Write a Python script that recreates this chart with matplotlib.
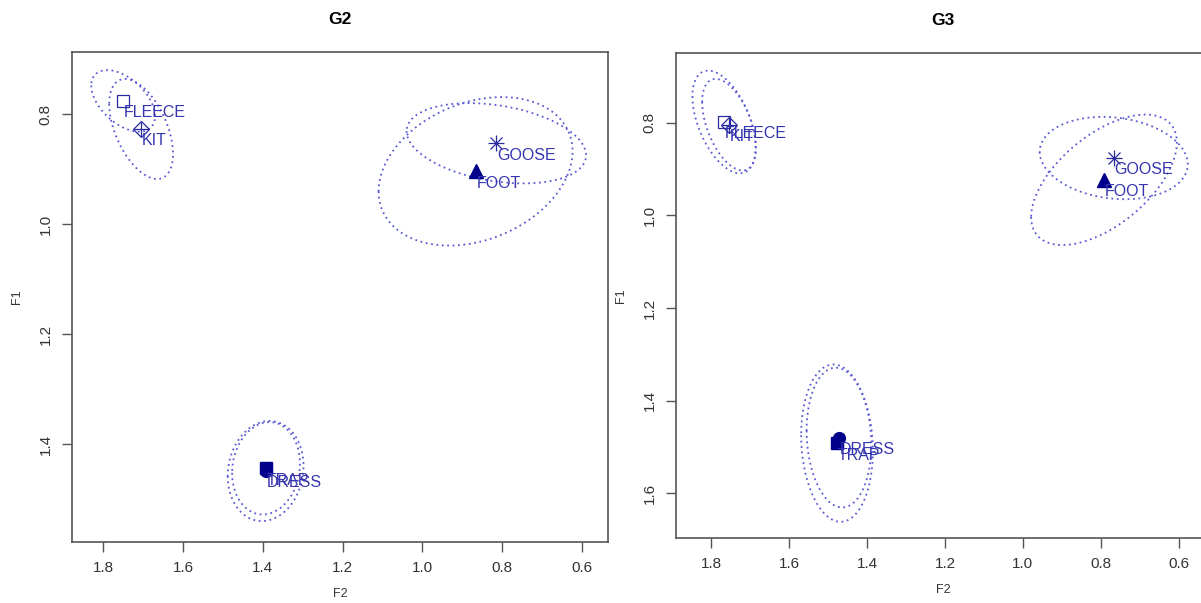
import numpy as np
import matplotlib.pyplot as plt

plt.rcParams['font.family'] = ['Liberation Sans', 'DejaVu Sans']

# vowel means and ellipse shapes (hx, hy = half extents, r = correlation)
vowels = ['FLEECE', 'KIT', 'GOOSE', 'FOOT', 'TRAP', 'DRESS']

g2_f2 = [1.750, 1.705, 0.815, 0.867, 1.392, 1.393]
g2_f1 = [0.776, 0.827, 0.853, 0.904, 1.444, 1.449]
g2_hx = [0.080, 0.080, 0.225, 0.243, 0.085, 0.095]
g2_hy = [0.056, 0.091, 0.073, 0.135, 0.084, 0.091]
g2_r = [-0.50, -0.50, -0.30, 0.27, 0.10, 0.10]

g3_f2 = [1.767, 1.754, 0.767, 0.792, 1.477, 1.472]
g3_f1 = [0.798, 0.804, 0.876, 0.923, 1.492, 1.480]
g3_hx = [0.081, 0.069, 0.190, 0.187, 0.092, 0.083]
g3_hy = [0.111, 0.099, 0.089, 0.141, 0.170, 0.151]
g3_r = [-0.50, -0.50, -0.15, 0.57, -0.10, -0.10]

marker_color = '#00008b'
open_color = '#2a2aa0'
text_color = '#3535b0'
ell_color = '#5a5ad2'
axis_gray = '#555555'


def draw_marker(ax, v, x, y):
    if v == 'FLEECE':
        ax.plot(x, y, 's', ms=8, mfc='none', mec=open_color, mew=0.9)
    elif v == 'KIT':
        ax.plot(x, y, 'D', ms=8, mfc='none', mec=open_color, mew=0.9)
        ax.plot(x, y, '+', ms=10, mec=open_color, mew=0.9)
    elif v == 'GOOSE':
        ax.plot(x, y, '+', ms=11, mec=open_color, mew=0.9)
        ax.plot(x, y, 'x', ms=8, mec=open_color, mew=0.9)
    elif v == 'FOOT':
        ax.plot(x, y, '^', ms=10, color=marker_color)
    elif v == 'TRAP':
        ax.plot(x, y, 's', ms=8, color=marker_color)
    elif v == 'DRESS':
        ax.plot(x, y, 'o', ms=8.5, color=marker_color)


def draw_panel(ax, title, f2, f1, hx, hy, r, xlim, ylim, yticks):
    t = np.linspace(0, 2 * np.pi, 300)
    for i, v in enumerate(vowels):
        ex = f2[i] + hx[i] * np.cos(t)
        ey = f1[i] + hy[i] * (r[i] * np.cos(t) + np.sqrt(1 - r[i] ** 2) * np.sin(t))
        ax.plot(ex, ey, color=ell_color, lw=1.3, ls=(0, (1, 2)))
    for i, v in enumerate(vowels):
        draw_marker(ax, v, f2[i], f1[i])
        ax.annotate(v, (f2[i], f1[i]), xytext=(0.7, -8.6), textcoords='offset points',
                    ha='left', va='center', fontsize=11.5, color=text_color)
    ax.set_xlim(xlim)
    ax.set_ylim(ylim)
    ax.set_xticks([1.8, 1.6, 1.4, 1.2, 1.0, 0.8, 0.6])
    ax.set_xticklabels(['1.8', '1.6', '1.4', '1.2', '1.0', '0.8', '0.6'])
    ax.set_yticks(yticks)
    ax.set_yticklabels(['%.1f' % y for y in yticks], rotation=90, va='center')
    ax.set_title(title, fontsize=12.5, fontweight='bold', pad=20)
    ax.set_xlabel('F2', fontsize=9, color='#333333', labelpad=9)
    ax.set_ylabel('F1', fontsize=9, color='#333333', labelpad=11)
    ax.tick_params(direction='out', length=7, width=1, color=axis_gray,
                   labelsize=11, labelcolor='#333333', pad=7)
    for s in ax.spines.values():
        s.set_color(axis_gray)
        s.set_linewidth(1.2)


fig = plt.figure(figsize=(12.01, 6.03), dpi=100)
ax1 = fig.add_axes([0.0600, 0.1012, 0.4463, 0.8126])
ax2 = fig.add_axes([0.5629, 0.1078, 0.4446, 0.8043])

draw_panel(ax1, 'G2', g2_f2, g2_f1, g2_hx, g2_hy, g2_r,
           (1.878, 0.535), (1.578, 0.687), [0.8, 1.0, 1.2, 1.4])
draw_panel(ax2, 'G3', g3_f2, g3_f1, g3_hx, g3_hy, g3_r,
           (1.89, 0.52), (1.697, 0.649), [0.8, 1.0, 1.2, 1.4, 1.6])

plt.savefig('out.png', dpi=100)
